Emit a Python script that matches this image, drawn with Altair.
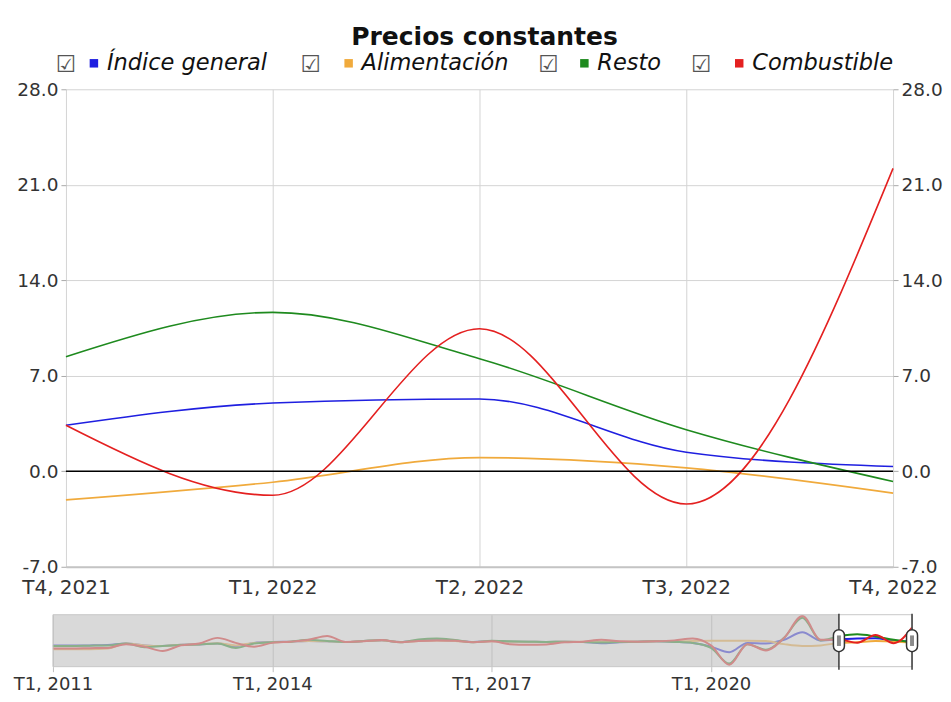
import json
import altair as alt
import pandas as pd

FONT = "DejaVu Sans"
TITLE = "Precios constantes"
SERIES = ["Índice general", "Alimentación", "Resto", "Combustible"]
COLORS = ["#1f1fe0", "#f0aa3c", "#1e8a1e", "#e42020"]
YEARS = list(range(2011, 2023))
QUARTER_LABELS = [f"T{q}, {y}" for y in YEARS for q in (1, 2, 3, 4)]

# quarterly values, T1 2011 ... T4 2022 (12 values per row = 3 years)
GENERAL = [-6.0, -6.2, -6.0, -5.5, -3.0, -6.0, -7.0, -5.0, -4.5, -3.0, -7.0, -2.0,
           -0.5, 0.0, 1.0, 0.5, -0.5, 1.0, 2.0, -0.5, 1.5, 2.5, 1.5, -0.5,
           1.0, 0.0, 0.0, -0.5, 0.0, -0.5, -2.5, -1.0, 0.0, 0.5, -0.5, -2.0,
           -8.0, -17.0, -2.0, -3.0, 3.0, 15.0, 2.0, 3.37, 5.0, 5.3, 1.4, 0.35]
ALIM = [-12.0, -12.0, -12.0, -11.0, -3.0, -6.0, -7.0, -5.0, -4.0, -2.5, -6.0, -2.0,
        -1.0, 0.0, 1.0, 0.5, -0.5, 1.0, 2.0, -0.5, 1.0, 2.0, 1.0, -0.5,
        0.5, 0.0, 0.0, -0.5, 0.0, 0.0, 0.0, 0.0, 0.0, 0.5, 0.5, 1.0,
        1.5, 1.5, 1.5, 1.0, -4.0, -7.0, -6.0, -2.1, -0.8, 1.0, 0.25, -1.6]
RESTO = [-7.0, -7.0, -6.5, -6.0, -3.0, -9.0, -7.0, -5.5, -4.5, -3.0, -10.0, -3.0,
         -1.0, 0.0, 3.0, 1.0, -0.5, 1.0, 2.5, -1.0, 3.5, 5.0, 2.5, -1.0,
         1.5, 0.5, 0.0, -0.5, 0.0, -0.5, -1.5, -0.5, 0.0, 0.5, -0.5, -2.0,
         -10.0, -35.0, -4.0, -13.0, 6.0, 38.0, 2.0, 8.4, 11.65, 8.25, 3.05, -0.75]
COMB = [-11.0, -11.0, -10.5, -10.0, -4.0, -8.0, -15.0, -6.0, -3.0, 6.0, -2.0, -8.0,
        -2.0, 0.0, 3.0, 9.0, -0.5, 0.5, 2.5, -1.0, 1.0, 2.0, 1.5, -1.0,
        0.5, -4.0, -5.0, -4.5, -1.0, 0.0, 3.0, 0.5, 0.0, 0.5, 2.0, 5.0,
        -6.0, -37.0, -4.0, -14.0, 6.0, 41.0, 3.0, 3.37, -1.76, 10.45, -2.4, 22.2]

Y_TICKS = [-7, 0, 7, 14, 21, 28]
MAIN_TICKS = [43, 44, 45, 46, 47]
NAV_TICKS = [0, 12, 24, 36]
NAV_WINDOW = [43, 47]

# legend layout (pixels from the left edge of the main plot)
LEG_CB_X = [0, 245, 483, 636]
LEG_SW_X = [28, 283, 519, 674]
LEG_TX_X = [41, 296, 532, 687]
LEG_Y = -26

rows = []
for name, vals in zip(SERIES, [GENERAL, ALIM, RESTO, COMB]):
    for i, v in enumerate(vals):
        rows.append({"name": name, "idx": i, "value": v})
df = pd.DataFrame(rows)
main_df = df[df["idx"] >= NAV_WINDOW[0]]

label_expr = json.dumps(QUARTER_LABELS) + "[datum.value]"
y_label_expr = "(datum.value < 0 ? '-' : '') + format(abs(datum.value), '.1f')"
color_scale = alt.Scale(domain=SERIES, range=COLORS)

W, H = 828, 478
x_main = alt.X(
    "idx:Q",
    scale=alt.Scale(domain=[43, 47], nice=False, zero=False),
    axis=alt.Axis(values=MAIN_TICKS, labelExpr=label_expr, title=None, grid=True,
                  gridColor="#d4d4d4", ticks=False, domain=True, domainColor="#c4c4c4",
                  domainWidth=2, labelFont=FONT, labelFontSize=20, labelColor="#333",
                  labelPadding=11, labelFlush=False, labelOverlap=False,
                  minExtent=40, maxExtent=40),
)
y_scale = alt.Scale(domain=[-7, 28], nice=False, zero=False)
y_common = dict(values=Y_TICKS, labelExpr=y_label_expr, title=None, domain=False, ticks=True,
                tickColor="#aaaaaa", tickSize=5, labelFont=FONT, labelFontSize=18.5,
                labelColor="#333", labelPadding=3, labelFlush=False, labelOverlap=False)

lines = alt.Chart(main_df).mark_line(interpolate="monotone", strokeWidth=1.6).encode(
    x=x_main,
    y=alt.Y("value:Q", scale=y_scale,
            axis=alt.Axis(orient="left", grid=True, gridColor="#d4d4d4",
                          minExtent=55, maxExtent=55, **y_common)),
    color=alt.Color("name:N", scale=color_scale, legend=None),
)
right_axis = alt.Chart(main_df).mark_point(opacity=0).encode(
    x=alt.X("idx:Q"),
    y=alt.Y("value:Q", scale=y_scale, axis=alt.Axis(orient="right", grid=False, **y_common)),
)
zero = alt.Chart(pd.DataFrame({"v": [0]})).mark_rule(color="black", strokeWidth=1.5).encode(
    y=alt.Y("v:Q", axis=None)
)

leg = pd.DataFrame({"name": SERIES, "cb": LEG_CB_X, "sw": LEG_SW_X, "tx": LEG_TX_X,
                    "box": ["☑"] * 4})
checkbox = alt.Chart(leg).mark_text(font=FONT, fontSize=23, color="#555",
                                    align="center", baseline="middle").encode(
    x=alt.X("cb:Q", scale=None, axis=None), y=alt.value(LEG_Y + 2), text="box:N")
swatch = alt.Chart(leg).mark_square(size=72, opacity=1).encode(
    x=alt.X("sw:Q", scale=None, axis=None), y=alt.value(LEG_Y),
    color=alt.Color("name:N", scale=color_scale, legend=None))
leg_text = alt.Chart(leg).mark_text(font=FONT, fontSize=22.5, fontStyle="italic", color="#111",
                                    align="left", baseline="middle").encode(
    x=alt.X("tx:Q", scale=None, axis=None), y=alt.value(LEG_Y), text="name:N")
title = alt.Chart(pd.DataFrame({"t": [TITLE]})).mark_text(
    font=FONT, fontSize=25, fontWeight="bold", color="#111", align="center", baseline="middle"
).encode(x=alt.value(W / 2 + 5), y=alt.value(-52), text="t:N")

main = alt.layer(lines, right_axis, zero, checkbox, swatch, leg_text, title).resolve_axis(
    y="independent").properties(width=W, height=H)

# navigator: same left origin as the main plot, its scale reaches 13 px further left
NW, NH = 847, 52
nav_x = alt.Scale(domain=[0, 47], range=[-13, NW], nice=False, zero=False)
nav_lines = alt.Chart(df).mark_line(interpolate="monotone", strokeWidth=2).encode(
    x=alt.X("idx:Q", scale=nav_x,
            axis=alt.Axis(values=NAV_TICKS, labelExpr=label_expr, title=None, grid=True,
                          gridColor="#b8b8b8", ticks=True, tickColor="#c0c0c0", tickSize=5,
                          domain=False, labelFont=FONT, labelFontSize=18, labelColor="#333",
                          labelPadding=4, labelFlush=False, labelOverlap=False)),
    y=alt.Y("value:Q", scale=alt.Scale(domain=[-40, 43], nice=False, zero=False),
            axis=alt.Axis(labels=False, ticks=False, domain=False, grid=False, title=None)),
    color=alt.Color("name:N", scale=color_scale, legend=None),
)
shade = alt.Chart(pd.DataFrame({"a": [0], "b": [NAV_WINDOW[0]]})).mark_rect(
    color="#c4c4c4", opacity=0.65).encode(
    x=alt.X("a:Q"), x2="b:Q", y=alt.value(0), y2=alt.value(NH))
outline = alt.Chart(pd.DataFrame({"a": [0], "b": [47]})).mark_rect(
    fill="transparent", stroke="#c8c8c8", strokeWidth=1).encode(
    x=alt.X("a:Q"), x2="b:Q", y=alt.value(0), y2=alt.value(NH))

CAPSULE = "M-0.5,-0.5 A0.5,0.5 0 0 1 0.5,-0.5 L0.5,0.5 A0.5,0.5 0 0 1 -0.5,0.5 Z"
BAR = "M-0.18,-0.48 L0.18,-0.48 L0.18,0.48 L-0.18,0.48 Z"
hdf = pd.DataFrame({"idx": NAV_WINDOW})
hrule = alt.Chart(hdf).mark_rule(color="#3a3a3a", strokeWidth=1.5).encode(
    x=alt.X("idx:Q"), y=alt.value(-1), y2=alt.value(NH + 3))
hcap = alt.Chart(hdf).mark_point(shape=CAPSULE, size=484, filled=True, fill="white",
                                 stroke="#333", strokeWidth=1.5, opacity=1).encode(
    x=alt.X("idx:Q"), y=alt.value(NH / 2))
hbar = alt.Chart(hdf).mark_point(shape=BAR, size=484, filled=True, color="#8a8a8a",
                                 opacity=1).encode(
    x=alt.X("idx:Q"), y=alt.value(NH / 2))

nav = alt.layer(nav_lines, shade, outline, hrule, hcap, hbar).properties(width=NW, height=NH)

chart = alt.vconcat(main, nav, spacing=3).properties(
    padding={"left": 2, "top": 16, "right": 0, "bottom": 0}, background="white"
).configure_view(stroke="transparent")

chart.save("out.html", embed_options={"renderer": "svg", "actions": False})
